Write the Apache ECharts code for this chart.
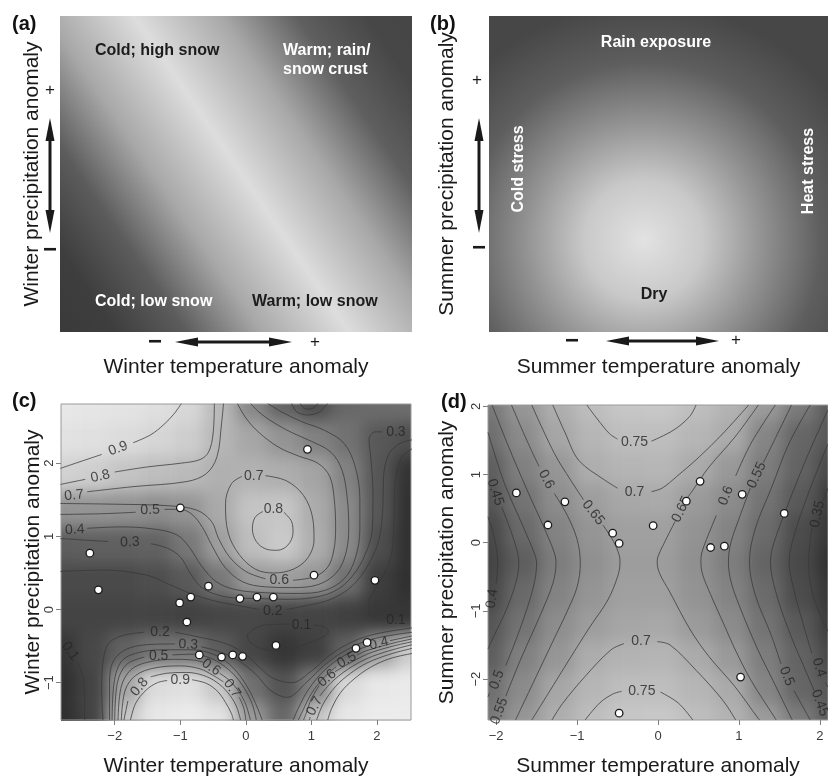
<!DOCTYPE html>
<html>
<head>
<meta charset="utf-8">
<script src="https://cdn.jsdelivr.net/npm/echarts@6/dist/echarts.min.js"></script>
<style>
html,body{margin:0;padding:0;background:#fff;}
#wrap{position:relative;width:828px;height:778px;overflow:hidden;background:#fff;}
.hclip{position:absolute;overflow:hidden;}
.hchart{position:absolute;filter:blur(8px);}
#main{position:absolute;left:0;top:0;width:828px;height:778px;z-index:2;}
</style>
</head>
<body>
<div id="wrap">
  <div class="hclip" id="clipC"><div class="hchart" id="heatC"></div></div>
  <div class="hclip" id="clipD"><div class="hchart" id="heatD"></div></div>
  <div id="main"></div>
</div>
<script>
// ---------------- DATA ----------------
// axis ranges and tick values
const cRangeX = [-2.82, 2.52];
const cRangeY = [-1.51, 2.81];
const dRangeX = [-2.1, 2.1];
const dRangeY = [-2.6, 2.02];
const cTicksX = [-2, -1, 0, 1, 2];
const cTicksY = [-1, 0, 1, 2];
const dTicksX = [-2, -1, 0, 1, 2];
const dTicksY = [-2, -1, 0, 1, 2];

// observed populations (panel c and d)
const cPoints = [[0.94,2.19],[-1.00,1.39],[-2.38,0.77],[-2.25,0.27],[-0.57,0.32],[-0.84,0.17],[-1.01,0.09],[-0.90,-0.17],[-0.09,0.15],[0.17,0.17],[0.42,0.17],[1.04,0.47],[1.97,0.40],[0.46,-0.49],[-0.71,-0.62],[-0.37,-0.65],[-0.20,-0.62],[-0.05,-0.64],[1.68,-0.53],[1.85,-0.45]];
const dPoints = [[-1.75,0.73],[-1.36,0.26],[-1.15,0.60],[-0.56,0.14],[-0.48,-0.01],[-0.06,0.25],[0.35,0.61],[0.52,0.90],[0.65,-0.07],[0.82,-0.05],[1.04,0.71],[1.56,0.43],[1.02,-1.97],[-0.48,-2.50]];

// surface values read on a regular grid (rows top -> bottom)
const cHeatX = [-2.82,-2.33,-1.85,-1.36,-0.88,-0.39,0.09,0.58,1.06,1.55,2.04,2.52];
const cHeatY = [2.81,2.33,1.85,1.37,0.89,0.41,-0.07,-0.55,-1.03,-1.51];
const cHeatZ = [
  [0.97,0.96,0.95,0.93,0.89,0.74,0.49,0.31,0.20,0.33,0.35,0.36],
  [0.94,0.93,0.91,0.88,0.84,0.72,0.64,0.55,0.46,0.38,0.25,0.20],
  [0.86,0.84,0.79,0.76,0.74,0.69,0.70,0.68,0.63,0.46,0.24,0.06],
  [0.55,0.55,0.54,0.52,0.55,0.66,0.79,0.80,0.67,0.50,0.24,0.05],
  [0.28,0.29,0.29,0.30,0.41,0.60,0.76,0.82,0.68,0.50,0.20,0.05],
  [0.18,0.18,0.18,0.20,0.26,0.41,0.58,0.60,0.56,0.37,0.12,0.05],
  [0.15,0.15,0.15,0.15,0.14,0.16,0.17,0.15,0.15,0.13,0.09,0.08],
  [0.08,0.17,0.30,0.39,0.40,0.27,0.16,0.08,0.13,0.30,0.60,0.83],
  [0.05,0.15,0.63,0.91,0.93,0.80,0.37,0.23,0.46,0.90,0.97,0.98],
  [0.04,0.15,0.80,0.97,0.99,0.95,0.58,0.33,0.79,0.97,0.99,0.99]
];
const dHeatX = [-2.1,-1.68,-1.26,-0.84,-0.42,0.0,0.42,0.84,1.26,1.68,2.1];
const dHeatY = [2.02,1.558,1.096,0.634,0.172,-0.29,-0.752,-1.214,-1.676,-2.138,-2.6];
const dHeatZ = [
  [0.54,0.63,0.705,0.752,0.78,0.785,0.755,0.72,0.645,0.545,0.44],
  [0.505,0.595,0.68,0.73,0.752,0.752,0.73,0.695,0.575,0.48,0.435],
  [0.455,0.56,0.63,0.705,0.725,0.73,0.695,0.64,0.55,0.47,0.385],
  [0.43,0.52,0.6,0.655,0.685,0.69,0.645,0.598,0.52,0.44,0.35],
  [0.39,0.49,0.57,0.625,0.66,0.66,0.62,0.57,0.495,0.4,0.33],
  [0.375,0.455,0.55,0.612,0.65,0.65,0.61,0.555,0.475,0.39,0.31],
  [0.39,0.49,0.57,0.625,0.66,0.66,0.62,0.57,0.495,0.4,0.33],
  [0.43,0.52,0.6,0.65,0.68,0.685,0.645,0.598,0.52,0.44,0.35],
  [0.455,0.56,0.63,0.7,0.72,0.725,0.695,0.64,0.55,0.47,0.385],
  [0.505,0.595,0.68,0.73,0.752,0.752,0.73,0.69,0.575,0.48,0.435],
  [0.54,0.63,0.705,0.752,0.78,0.785,0.755,0.72,0.645,0.545,0.44]
];

// contour lines (null = break where a label sits)
const cContourLevels = [0.9,0.8,0.7,0.8,0.7,0.6,0.5,0.4,0.3,0.3,0.2,0.2,0.1,0.1,0.1,0.2,0.3,0.4,0.5,0.6,0.7,0.8,0.9,0.4,0.5,0.6,0.7,0.8,0.9];
const cContourPaths = [
  [[-2.83,1.93],[-2.5,2.03],[-2.2,2.12],null,[-1.72,2.28],[-1.45,2.39],[-1.25,2.53],[-1.1,2.67],[-0.98,2.82]],
  [[-2.83,1.71],[-2.45,1.78],null,[-2.0,1.88],[-1.5,1.95],[-1.0,2.0],[-0.7,2.05],[-0.57,2.15],[-0.5,2.4],[-0.48,2.82]],
  [[-2.42,1.61],[-1.72,1.68],[-0.9,1.75],[-0.6,1.86],[-0.44,2.09],[-0.37,2.55],[-0.34,2.82]],
  [[0.58,1.33],[0.70,1.2],[0.72,1.05],[0.64,0.88],[0.48,0.81],[0.3,0.83],[0.16,0.93],[0.1,1.1],[0.14,1.26],[0.26,1.34]],
  [[0.3,1.83],[0.62,1.76],[0.88,1.56],[1.02,1.25],[1.04,0.95],[0.94,0.7],[0.72,0.55],[0.42,0.5],[0.15,0.55],[-0.1,0.75],[-0.27,1.05],[-0.31,1.45],[-0.22,1.72],[-0.06,1.82]],
  [[-2.83,1.45],[-2.0,1.44],[-1.2,1.42],[-0.75,1.36],[-0.52,1.2],[-0.42,0.98],[-0.25,0.72],[0.0,0.52],[0.3,0.42],null,[0.72,0.40],[1.05,0.45],[1.25,0.58],[1.34,0.8],[1.37,1.1],[1.35,1.5],[1.28,1.82],[1.1,2.0],[0.8,2.1],[0.5,2.22],[0.2,2.42],[0.0,2.62],[-0.13,2.82]],
  [[-2.83,1.30],[-2.2,1.31],[-1.68,1.33],null,[-1.24,1.37],[-1.0,1.37],[-0.82,1.3],[-0.66,1.12],[-0.52,0.88],[-0.32,0.58],[-0.05,0.38],[0.3,0.31],[0.7,0.30],[1.1,0.34],[1.38,0.5],[1.52,0.75],[1.57,1.1],[1.55,1.5],[1.47,1.9],[1.3,2.15],[1.0,2.3],[0.7,2.42],[0.4,2.57],[0.2,2.7],[0.07,2.82]],
  [[-2.42,1.11],[-1.9,1.13],[-1.4,1.10],[-1.05,1.02],[-0.86,0.85],[-0.68,0.6],[-0.45,0.38],[-0.15,0.27],[0.3,0.23],[0.8,0.22],[1.2,0.26],[1.5,0.42],[1.67,0.7],[1.74,1.1],[1.74,1.5],[1.67,1.95],[1.5,2.27],[1.2,2.45],[0.85,2.57],[0.55,2.7],[0.33,2.82]],
  [[-2.83,0.97],[-2.1,0.93],null,[-1.45,0.9],[-1.2,0.84],[-1.0,0.72],[-0.85,0.5],[-0.7,0.32],[-0.5,0.22],[-0.2,0.16],[0.2,0.15],[0.6,0.14],[1.0,0.16],[1.35,0.25],[1.62,0.45],[1.82,0.75],[1.93,1.1],[1.94,1.6],[1.91,2.05],[1.88,2.33],[1.98,2.43],[2.08,2.43]],
  [[0.7,2.82],[0.78,2.7],[0.95,2.66],[1.12,2.7],[1.25,2.82]],
  [[0.83,2.82],[0.88,2.76],[0.96,2.74],[1.04,2.76],[1.1,2.82]],
  [[-2.83,0.52],[-2.17,0.54],[-1.51,0.47],[-1.16,0.34],[-0.85,0.22],[-0.49,0.12],[-0.09,0.05],[0.2,0.0],null,[0.62,0.0],[0.96,0.06],[1.3,0.14],[1.62,0.32],[1.86,0.6],[2.03,0.95],[2.09,1.4],[2.1,1.8],[2.18,2.12],[2.35,2.27],[2.54,2.32]],
  [[2.54,2.2],[2.38,2.08],[2.28,1.75],[2.26,1.2],[2.23,0.8],[2.13,0.52],[1.99,0.3],[1.88,0.1],[1.88,-0.05],[2.0,-0.12],[2.12,-0.14]],
  [[0.02,-0.35],[0.12,-0.27],[0.3,-0.21],[0.66,-0.2],null,[1.04,-0.21],[1.2,-0.24],[1.26,-0.30],[1.19,-0.37],[0.88,-0.48],[0.52,-0.57],[0.22,-0.53],[0.06,-0.44],[0.02,-0.35]],
  [[-2.56,-0.72],[-2.48,-0.95],[-2.46,-1.2],[-2.46,-1.51]],
  [[-2.18,-1.51],[-2.2,-1.1],[-2.18,-0.72],[-2.1,-0.47],[-1.9,-0.36],[-1.55,-0.31],null,[-1.08,-0.31],[-0.8,-0.36],[-0.29,-0.47],[0.02,-0.63],[0.22,-0.8],[0.42,-0.94],[0.7,-1.0],[1.0,-0.84],[1.3,-0.61],[1.65,-0.43],[2.0,-0.33],[2.54,-0.25]],
  [[-2.08,-1.51],[-2.08,-1.0],[-2.03,-0.72],[-1.84,-0.55],[-1.51,-0.48],[-1.08,-0.47],null,[-0.68,-0.51],[-0.39,-0.58],[-0.09,-0.71],[0.17,-0.9],[0.37,-1.1],[0.63,-1.2],[0.93,-0.99],[1.2,-0.76],[1.5,-0.57],[1.9,-0.41],[2.54,-0.31]],
  [[2.54,-0.36],[2.2,-0.425],null,[1.86,-0.5],[1.5,-0.63],[1.2,-0.83],[0.95,-1.1],[0.8,-1.35],[0.72,-1.51]],
  [[2.54,-0.40],[2.2,-0.47],[1.85,-0.56],[1.7,-0.62],null,[1.38,-0.78],[1.2,-0.92],[1.0,-1.15],[0.87,-1.38],[0.8,-1.51]],
  [[2.54,-0.44],[2.2,-0.51],[1.85,-0.61],[1.55,-0.75],[1.36,-0.85],null,[1.12,-1.04],[1.0,-1.22],[0.92,-1.42],[0.88,-1.51]],
  [[2.54,-0.48],[2.2,-0.56],[1.85,-0.67],[1.55,-0.82],[1.3,-1.0],[1.13,-1.18],null,[0.98,-1.47],[0.97,-1.51]],
  [[2.54,-0.53],[2.2,-0.61],[1.85,-0.73],[1.6,-0.87],[1.37,-1.05],[1.18,-1.29],[1.08,-1.51]],
  [[2.54,-0.60],[2.2,-0.67],[1.9,-0.79],[1.65,-0.95],[1.45,-1.13],[1.31,-1.35],[1.25,-1.51]],
  [[-2.04,-1.51],[-2.01,-1.0],[-1.89,-0.7],[-1.6,-0.58],[-1.2,-0.55],[-0.8,-0.55],[-0.5,-0.61],[-0.3,-0.71],[-0.12,-0.87],[0.05,-1.1],[0.18,-1.35],[0.25,-1.51]],
  [[-2.0,-1.51],[-1.96,-1.0],[-1.82,-0.75],[-1.55,-0.65],null,[-1.12,-0.62],[-0.8,-0.61],[-0.55,-0.66],[-0.35,-0.76],[-0.18,-0.89],[-0.02,-1.08],[0.1,-1.3],[0.16,-1.51]],
  [[-1.95,-1.51],[-1.9,-1.05],[-1.75,-0.82],[-1.5,-0.72],[-1.1,-0.68],[-0.8,-0.69],[-0.65,-0.72],null,[-0.4,-0.87],[-0.25,-0.97],[-0.1,-1.13],[0.0,-1.3],[0.07,-1.51]],
  [[-1.9,-1.51],[-1.84,-1.1],[-1.68,-0.9],[-1.4,-0.8],[-1.0,-0.77],[-0.7,-0.81],[-0.5,-0.9],[-0.34,-0.99],null,[-0.1,-1.2],[-0.03,-1.35],[0.0,-1.51]],
  [[-1.86,-1.51],[-1.8,-1.25],null,[-1.45,-0.92],[-1.2,-0.87],[-0.9,-0.86],[-0.65,-0.9],[-0.45,-0.99],[-0.28,-1.13],[-0.15,-1.31],[-0.08,-1.51]],
  [[-1.76,-1.51],[-1.68,-1.28],[-1.52,-1.1],[-1.35,-1.0],[-1.2,-0.97],null,[-0.82,-0.96],[-0.6,-1.01],[-0.43,-1.12],[-0.31,-1.27],[-0.22,-1.42],[-0.19,-1.51]]
];
const cLabelText = ['0.9','0.8','0.7','0.5','0.4','0.3','0.7','0.8','0.6','0.2','0.3','0.1','0.1','0.1','0.2','0.3','0.5','0.6','0.7','0.8','0.9','0.4','0.5','0.6','0.7'];
const cLabelAt = [[-1.95,2.2],[-2.22,1.82],[-2.62,1.56],[-1.46,1.36],[-2.61,1.09],[-1.77,0.92],[0.12,1.83],[0.42,1.37],[0.51,0.40],[0.41,-0.02],[2.29,2.43],[2.29,-0.15],[0.85,-0.21],[-2.68,-0.57],[-1.31,-0.31],[-0.88,-0.48],[-1.33,-0.64],[-0.53,-0.79],[-0.21,-1.08],[-1.62,-1.06],[-1.0,-0.96],[2.03,-0.465],[1.54,-0.69],[1.24,-0.94],[1.05,-1.32]];
const cLabelAngle = [20,13,6,2,3,2,0,0,0,0,0,0,0,-55,0,-3,0,-35,-55,50,0,14,30,40,62];

const dContourLevels = [0.65,0.6,0.55,0.5,0.45,0.4,0.65,0.6,0.55,0.5,0.45,0.4,0.35,0.75,0.7,0.7,0.75];
const dContourPaths = [
  [[-1.56,2.02],[-1.28,1.31],[-1.08,0.92],[-0.92,0.63],null,[-0.68,0.26],[-0.55,0.02],[-0.48,-0.18],[-0.47,-0.3],[-0.5,-0.5],[-0.62,-0.84],[-0.85,-1.25],[-1.1,-1.72],[-1.35,-2.2],[-1.56,-2.6]],
  [[-1.81,2.02],[-1.62,1.5],[-1.47,1.12],null,[-1.28,0.72],[-1.12,0.4],[-1.0,0.05],[-0.96,-0.3],[-1.0,-0.65],[-1.12,-1.0],[-1.3,-1.45],[-1.5,-1.95],[-1.7,-2.45],[-1.76,-2.6]],
  [[-2.05,2.02],[-1.86,1.45],[-1.62,0.78],[-1.4,0.2],[-1.28,-0.15],[-1.26,-0.3],[-1.3,-0.6],[-1.45,-1.05],[-1.7,-1.72],[-1.88,-2.25]],
  [[-2.1,1.62],[-1.9,0.88],[-1.66,0.22],[-1.53,-0.15],[-1.50,-0.3],[-1.54,-0.65],[-1.7,-1.25],[-1.88,-1.8],null,[-2.08,-2.2],[-2.1,-2.26]],
  [[-1.93,0.52],[-1.82,0.18],[-1.74,-0.12],[-1.72,-0.3],[-1.76,-0.6],[-1.88,-1.0],[-2.02,-1.35],[-2.1,-1.56]],
  [[-2.1,0.38],[-2.02,0.06],[-1.98,-0.3],[-2.0,-0.6]],
  [[1.24,2.02],[0.95,1.55],[0.63,1.11],[0.43,0.77],[0.37,0.67],null,[0.21,0.31],[0.07,-0.02],[0.0,-0.2],[-0.01,-0.28],[0.02,-0.45],[0.14,-0.71],[0.4,-1.28],[0.63,-1.67],[0.95,-2.11],[1.24,-2.58],[1.26,-2.6]],
  [[1.45,2.02],[1.15,1.46],[0.96,0.98],null,[0.72,0.4],[0.6,0.05],[0.54,-0.15],[0.53,-0.28],[0.55,-0.46],[0.65,-0.76],[0.83,-1.24],[0.95,-1.56],[1.15,-2.02],[1.45,-2.58],[1.46,-2.6]],
  [[1.65,2.02],[1.42,1.46],[1.3,1.17],null,[1.14,0.8],[1.0,0.35],[0.9,0.0],[0.87,-0.28],[0.9,-0.56],[1.0,-0.91],[1.23,-1.56],[1.42,-2.02],[1.65,-2.58],[1.66,-2.6]],
  [[1.88,2.02],[1.62,1.46],[1.40,0.8],[1.2,0.2],[1.13,-0.28],[1.2,-0.76],[1.40,-1.36],[1.52,-1.78],null,[1.68,-2.17],[1.88,-2.6]],
  [[2.1,1.95],[1.82,1.2],[1.57,0.45],[1.42,-0.05],[1.39,-0.28],[1.45,-0.7],[1.62,-1.3],[1.85,-1.95],[1.93,-2.17],null,[2.1,-2.58]],
  [[2.1,1.45],[1.85,0.7],[1.68,0.1],[1.62,-0.28],[1.68,-0.7],[1.82,-1.3],[1.9,-1.62],null,[2.07,-2.05],[2.1,-2.12]],
  [[2.1,0.8],[2.04,0.62],null,[1.9,0.22],[1.86,-0.28],[1.9,-0.7],[2.02,-1.1],[2.1,-1.3]],
  [[-0.88,2.02],[-0.74,1.80],[-0.6,1.6],[-0.5,1.52],null,[-0.08,1.49],[0.19,1.65],[0.39,1.85],[0.47,2.02]],
  [[-1.30,2.02],[-1.15,1.62],[-0.98,1.21],[-0.66,0.92],[-0.5,0.8],null,[-0.08,0.75],[0.05,0.8],[0.23,0.97],[0.51,1.26],[0.80,1.60],[1.12,2.02]],
  [[-1.31,-2.6],[-1.18,-2.36],[-0.9,-1.96],[-0.58,-1.57],[-0.42,-1.48],null,[-0.01,-1.45],[0.15,-1.5],[0.47,-1.87],[0.80,-2.31],[0.96,-2.6]],
  [[-0.9,-2.6],[-0.72,-2.35],[-0.56,-2.22],[-0.45,-2.18],null,[0.03,-2.19],[0.25,-2.35],[0.43,-2.6]]
];
const dLabelText = ['0.75','0.7','0.7','0.75','0.65','0.6','0.45','0.4','0.5','0.55','0.65','0.6','0.55','0.35','0.5','0.4','0.45'];
const dLabelAt = [[-0.29,1.47],[-0.29,0.74],[-0.21,-1.45],[-0.2,-2.17],[-0.80,0.44],[-1.38,0.93],[-2.01,0.74],[-2.05,-0.82],[-1.99,-2.01],[-1.96,-2.47],[0.29,0.49],[0.84,0.69],[1.22,0.99],[1.97,0.42],[1.59,-1.96],[1.99,-1.83],[2.0,-2.35]];
const dLabelAngle = [0,0,0,0,-52,-63,-72,82,70,70,64,68,65,78,-68,-72,-70];

// ---------------- LAYOUT / STYLE ----------------
const FONT = "'Liberation Sans', Arial, Helvetica, sans-serif";
const GA = {left:60, top:16, width:352, height:316};
const GB = {left:489, top:16, width:352, height:316};
const GC = {left:61, top:404, width:350, height:317};
const GD = {left:488, top:405, width:347, height:315};

// ---------- blurred surface layers ----------
function makeHeat(clipId, elId, G, xs, ys, z, vmin, vmax, colors) {
  const pad = 44;
  const clip = document.getElementById(clipId);
  clip.style.left = G.left + 'px'; clip.style.top = G.top + 'px';
  clip.style.width = G.width + 'px'; clip.style.height = G.height + 'px';
  const el = document.getElementById(elId);
  el.style.left = (-pad) + 'px'; el.style.top = (-pad) + 'px';
  el.style.width = (G.width + 2 * pad) + 'px'; el.style.height = (G.height + 2 * pad) + 'px';
  const nx = xs.length, ny = ys.length;
  const cw = G.width / (nx - 1), ch = G.height / (ny - 1);
  const data = [];
  for (let r = 0; r < ny; r++) for (let c = 0; c < nx; c++) data.push([c, ny - 1 - r, z[r][c]]);
  const chart = echarts.init(el, null, {renderer: 'canvas'});
  chart.setOption({
    animation: false,
    backgroundColor: 'transparent',
    grid: {left: pad - cw / 2, top: pad - ch / 2, width: nx * cw, height: ny * ch, containLabel: false},
    xAxis: {type: 'category', data: xs.map(String), show: false},
    yAxis: {type: 'category', data: ys.slice().reverse().map(String), show: false},
    visualMap: {show: false, min: vmin, max: vmax, inRange: {color: colors}},
    series: [{type: 'heatmap', data: data, itemStyle: {borderWidth: 0}, silent: true}]
  });
}
makeHeat('clipC', 'heatC', GC, cHeatX, cHeatY, cHeatZ, 0, 1, ['#262626', '#eeeeee']);
makeHeat('clipD', 'heatD', GD, dHeatX, dHeatY, dHeatZ, 0.3, 0.8, ['#2c2c2c', '#cdcdcd']);

// ---------- main chart ----------
const minus = v => (v < 0 ? '\u2212' + Math.abs(v) : String(v));
const nameStyle = {fontSize: 21, color: '#1a1a1a', fontFamily: FONT};

function blankAxis(gi, name, gap, isY) {
  const a = {gridIndex: gi, type: 'value', min: 0, max: 1,
    axisLine: {show: false, onZero: false}, axisTick: {show: false}, axisLabel: {show: false}, splitLine: {show: false},
    name: name, nameLocation: 'middle', nameGap: gap, nameMoveOverlap: false, nameTextStyle: nameStyle};
  if (isY) a.nameRotate = 90;
  return a;
}
function dataAxis(gi, range, ticks, name, gap, isY) {
  const a = {gridIndex: gi, type: 'value', min: range[0], max: range[1],
    axisLine: {show: false, onZero: false},
    axisTick: {show: true, length: 5, customValues: ticks, lineStyle: {color: '#808080', width: 1}},
    axisLabel: {show: true, customValues: ticks, formatter: minus, fontSize: 13, color: '#3a3a3a', fontFamily: FONT, margin: isY ? 5 : 10, rotate: isY ? 90 : 0},
    splitLine: {show: false},
    name: name, nameLocation: 'middle', nameGap: gap, nameMoveOverlap: false, nameTextStyle: nameStyle};
  if (isY) a.nameRotate = 90;
  return a;
}

function contourSeries(paths, axisIdx) {
  const out = [];
  const mk = seg => ({type: 'line', xAxisIndex: axisIdx, yAxisIndex: axisIdx, data: seg, smooth: 0.35,
    symbol: 'none', silent: true, z: 3, lineStyle: {color: '#383838', width: 0.9, opacity: 0.85}});
  paths.forEach(path => {
    let seg = [];
    path.forEach(p => {
      if (p === null) { if (seg.length > 1) out.push(mk(seg)); seg = []; }
      else seg.push(p);
    });
    if (seg.length > 1) out.push(mk(seg));
  });
  return out;
}
function labelSeries(texts, pos, angles, axisIdx) {
  return {type: 'scatter', xAxisIndex: axisIdx, yAxisIndex: axisIdx, symbolSize: 0, silent: true, z: 4,
    data: pos.map((p, i) => ({value: p, label: {formatter: texts[i], rotate: angles[i]}})),
    label: {show: true, position: 'inside', fontSize: 14, color: '#262626', fontFamily: FONT, align: 'center', verticalAlign: 'middle'}};
}
function pointSeries(pts, axisIdx) {
  return {type: 'scatter', xAxisIndex: axisIdx, yAxisIndex: axisIdx, data: pts, symbol: 'circle', symbolSize: 7.5,
    silent: true, z: 6, itemStyle: {color: '#ffffff', borderColor: '#1a1a1a', borderWidth: 1.3, opacity: 1}};
}

// gradients for the two conceptual panels
const gradA = {type: 'linear', x: -0.048, y: 0.927, x2: 1.08, y2: 0.073, colorStops: [
  {offset: 0, color: '#3a3a3a'}, {offset: 0.1, color: '#3e3e3e'}, {offset: 0.22, color: '#5c5c5c'},
  {offset: 0.35, color: '#a8a8a8'}, {offset: 0.5, color: '#dddddd'}, {offset: 0.65, color: '#a8a8a8'},
  {offset: 0.78, color: '#5f5f5f'}, {offset: 0.9, color: '#474747'}, {offset: 1, color: '#454545'}]};
const gradB = {type: 'radial', x: 0.44, y: 0.709, r: 0.75, colorStops: [
  {offset: 0, color: '#e2e2e2'}, {offset: 0.25, color: '#c9c9c9'}, {offset: 0.5, color: '#929292'},
  {offset: 0.75, color: '#5e5e5e'}, {offset: 1, color: '#474747'}]};

function txt(x, y, s, fill, opts) {
  opts = opts || {};
  return {type: 'text', x: x, y: y, rotation: opts.rot || 0, z: 100, silent: true,
    style: {text: s, fill: fill, font: (opts.font || 'bold 16px ' + FONT),
      textAlign: opts.align || 'left', textVerticalAlign: 'middle', align: opts.align || 'left', verticalAlign: 'middle'}};
}
function vArrow(x, y1, y2) {
  return [
    {type: 'line', z: 100, silent: true, shape: {x1: x, y1: y1 + 14, x2: x, y2: y2 - 14}, style: {stroke: '#1a1a1a', lineWidth: 3}},
    {type: 'polygon', z: 100, silent: true, shape: {points: [[x, y1], [x - 4.5, y1 + 23], [x + 4.5, y1 + 23]]}, style: {fill: '#1a1a1a'}},
    {type: 'polygon', z: 100, silent: true, shape: {points: [[x, y2], [x - 4.5, y2 - 23], [x + 4.5, y2 - 23]]}, style: {fill: '#1a1a1a'}}
  ];
}
function hArrow(y, x1, x2) {
  return [
    {type: 'line', z: 100, silent: true, shape: {x1: x1 + 14, y1: y, x2: x2 - 14, y2: y}, style: {stroke: '#1a1a1a', lineWidth: 3}},
    {type: 'polygon', z: 100, silent: true, shape: {points: [[x1, y], [x1 + 23, y - 4.5], [x1 + 23, y + 4.5]]}, style: {fill: '#1a1a1a'}},
    {type: 'polygon', z: 100, silent: true, shape: {points: [[x2, y], [x2 - 23, y - 4.5], [x2 - 23, y + 4.5]]}, style: {fill: '#1a1a1a'}}
  ];
}
const plusFont = '17px ' + FONT;
const dashFont = 'bold 24px ' + FONT;
const tagFont = 'bold 20px ' + FONT;

const graphic = [
  {type: 'rect', z: 1, silent: true, shape: {x: GA.left, y: GA.top, width: GA.width, height: GA.height}, style: {fill: gradA}},
  {type: 'rect', z: 1, silent: true, shape: {x: GB.left, y: GB.top, width: GB.width, height: GB.height}, style: {fill: gradB}},
  txt(12, 24, '(a)', '#111', {font: tagFont}),
  txt(430, 24, '(b)', '#111', {font: tagFont}),
  txt(12, 401, '(c)', '#111', {font: tagFont}),
  txt(441, 402, '(d)', '#111', {font: tagFont}),
  txt(95, 51, 'Cold; high snow', '#1c1c1c'),
  txt(283, 51, 'Warm; rain/', '#ffffff'),
  txt(283, 70, 'snow crust', '#ffffff'),
  txt(95, 302, 'Cold; low snow', '#ffffff'),
  txt(252, 302, 'Warm; low snow', '#1c1c1c'),
  txt(656, 43, 'Rain exposure', '#ffffff', {align: 'center'}),
  txt(519, 169, 'Cold stress', '#ffffff', {align: 'center', rot: Math.PI / 2}),
  txt(809, 171, 'Heat stress', '#ffffff', {align: 'center', rot: Math.PI / 2}),
  txt(654, 295, 'Dry', '#1c1c1c', {align: 'center'}),
  txt(50, 90, '+', '#1a1a1a', {align: 'center', font: plusFont}),
  txt(50, 250, '\u2212', '#1a1a1a', {align: 'center', font: dashFont}),
  txt(155, 342, '\u2212', '#1a1a1a', {align: 'center', font: dashFont}),
  txt(315, 342, '+', '#1a1a1a', {align: 'center', font: plusFont}),
  txt(477, 80, '+', '#1a1a1a', {align: 'center', font: plusFont}),
  txt(479, 248, '\u2212', '#1a1a1a', {align: 'center', font: dashFont}),
  txt(572, 341, '\u2212', '#1a1a1a', {align: 'center', font: dashFont}),
  txt(736, 340, '+', '#1a1a1a', {align: 'center', font: plusFont})
].concat(vArrow(50, 118, 233), hArrow(342, 175, 292), vArrow(479, 118, 233), hArrow(341, 606, 719));

const main = echarts.init(document.getElementById('main'), null, {renderer: 'canvas'});
main.setOption({
  animation: false,
  backgroundColor: 'transparent',
  textStyle: {fontFamily: FONT},
  grid: [
    Object.assign({show: false, containLabel: false}, GA),
    Object.assign({show: false, containLabel: false}, GB),
    Object.assign({show: true, containLabel: false, borderColor: '#9a9a9a', borderWidth: 1, backgroundColor: 'transparent'}, GC),
    Object.assign({show: true, containLabel: false, borderColor: '#9a9a9a', borderWidth: 1, backgroundColor: 'transparent'}, GD)
  ],
  xAxis: [
    blankAxis(0, 'Winter temperature anomaly', 25, false),
    blankAxis(1, 'Summer temperature anomaly', 25, false),
    dataAxis(2, cRangeX, cTicksX, 'Winter temperature anomaly', 36, false),
    dataAxis(3, dRangeX, dTicksX, 'Summer temperature anomaly', 36, false)
  ],
  yAxis: [
    blankAxis(0, 'Winter precipitation anomaly', 17, true),
    blankAxis(1, 'Summer precipitation anomaly', 31, true),
    dataAxis(2, cRangeY, cTicksY, 'Winter precipitation anomaly', 17, true),
    dataAxis(3, dRangeY, dTicksY, 'Summer precipitation anomaly', 30, true)
  ],
  graphic: graphic,
  series: [].concat(
    contourSeries(cContourPaths, 2),
    contourSeries(dContourPaths, 3),
    [labelSeries(cLabelText, cLabelAt, cLabelAngle, 2),
     labelSeries(dLabelText, dLabelAt, dLabelAngle, 3),
     pointSeries(cPoints, 2),
     pointSeries(dPoints, 3)]
  )
});
</script>
</body>
</html>
